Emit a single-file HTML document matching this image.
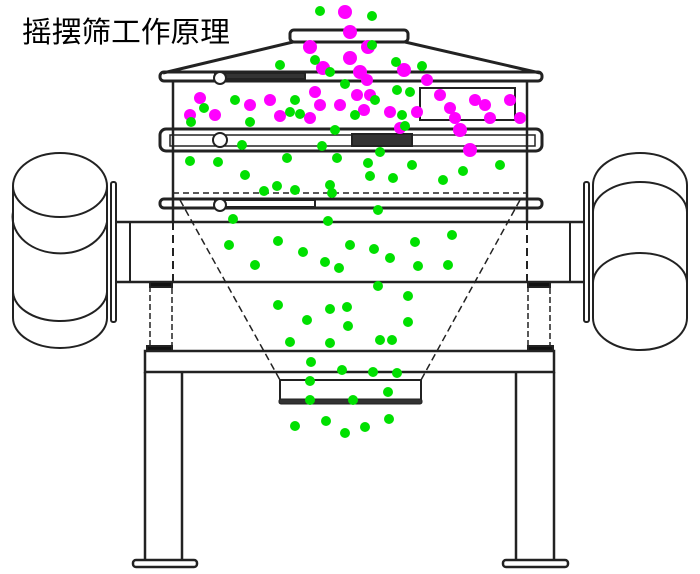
<!DOCTYPE html>
<html><head><meta charset="utf-8"><style>
html,body{margin:0;padding:0;background:#fff;}
svg{display:block;}
</style></head><body>
<svg width="700" height="574" viewBox="0 0 700 574" xmlns="http://www.w3.org/2000/svg">
<rect width="700" height="574" fill="#fff"/>
<text x="22" y="42" font-family="Liberation Sans, Noto Sans CJK SC, sans-serif" font-size="29" textLength="208" lengthAdjust="spacingAndGlyphs" fill="#000">摇摆筛工作原理</text>
<g fill="none" stroke="#222" stroke-width="2">
<!-- lid -->
<rect x="290" y="30" width="118" height="12" rx="4" fill="#fff" stroke-width="3"/>
<path d="M293 42 L163 73 M405 42 L540 73" stroke-width="3"/>
<rect x="160" y="72" width="382" height="9" rx="4" stroke-width="3"/>
<rect x="215" y="73" width="90" height="6" fill="#333"/>
<circle cx="220" cy="78" r="6" fill="#fff"/>
<!-- walls -->
<line x1="173" y1="80" x2="173" y2="222" stroke-width="2.5"/>
<line x1="527" y1="80" x2="527" y2="222" stroke-width="2.5"/>
<rect x="420" y="88" width="95" height="32"/>
<!-- band 2 -->
<rect x="160" y="129" width="382" height="22" rx="6" stroke-width="3"/>
<rect x="170" y="135" width="365" height="11" stroke-width="1.5"/>
<rect x="352" y="134" width="60" height="12" fill="#333"/>
<circle cx="220" cy="140" r="7" fill="#fff"/>
<!-- band 3 -->
<line x1="173" y1="193" x2="527" y2="193" stroke-dasharray="6 4" stroke-width="1.5"/>
<rect x="160" y="199" width="382" height="9" rx="4" stroke-width="3"/>
<rect x="215" y="200" width="100" height="7" fill="#fff"/>
<circle cx="220" cy="205" r="6" fill="#fff"/>
<!-- beam -->
<line x1="115" y1="222" x2="585" y2="222" stroke-width="2.5"/>
<line x1="115" y1="282" x2="585" y2="282" stroke-width="2.5"/>
<line x1="130" y1="222" x2="130" y2="282"/>
<line x1="570" y1="222" x2="570" y2="282"/>
<line x1="173" y1="222" x2="173" y2="282" stroke-dasharray="8 5"/>
<line x1="527" y1="222" x2="527" y2="282" stroke-dasharray="8 5"/>
<!-- flanges -->
<rect x="111" y="182" width="5" height="140" rx="2"/>
<rect x="584" y="182" width="5" height="140" rx="2"/>
<!-- left motor -->
<path d="M13 186 A47 33 0 0 1 107 186 L107 318 A47 30 0 0 1 13 318 Z" fill="#fff"/>
<path d="M13 186 A47 31 0 0 0 107 186"/>
<path d="M13 212 A47 36 0 0 0 107 222"/>
<path d="M13 290 A47 30 0 0 0 107 292"/>
<!-- right motor -->
<path d="M593 185 A47 32 0 0 1 687 185 L687 318 A47 32 0 0 1 593 318 Z" fill="#fff"/>
<path d="M593 212 A47 30 0 0 1 687 212"/>
<path d="M593 283 A47 30 0 0 1 687 283"/>
<!-- springs -->
<rect x="150" y="283" width="22" height="68" stroke-dasharray="6 3" stroke-width="1.5"/>
<rect x="150" y="282" width="22" height="5" fill="#111"/>
<rect x="147" y="346" width="25" height="5" fill="#111"/>
<rect x="528" y="283" width="22" height="68" stroke-dasharray="6 3" stroke-width="1.5"/>
<rect x="528" y="282" width="22" height="5" fill="#111"/>
<rect x="528" y="346" width="25" height="5" fill="#111"/>
<!-- table -->
<rect x="145" y="351" width="409" height="21" fill="#fff" stroke-width="2.5"/>
<!-- legs -->
<line x1="145" y1="372" x2="145" y2="560" stroke-width="2.5"/>
<line x1="182" y1="372" x2="182" y2="560" stroke-width="2.5"/>
<rect x="133" y="560" width="64" height="7" rx="3" stroke-width="2.5"/>
<line x1="516" y1="372" x2="516" y2="560" stroke-width="2.5"/>
<line x1="554" y1="372" x2="554" y2="560" stroke-width="2.5"/>
<rect x="503" y="560" width="65" height="7" rx="3" stroke-width="2.5"/>
<!-- hopper -->
<path d="M180 200 L280 380 M520 200 L421 380" stroke-dasharray="7 4" stroke-width="1.5"/>
<rect x="280" y="380" width="141" height="21" fill="#fff"/>
<rect x="279" y="399" width="143" height="5" rx="2" fill="#333" stroke-width="1"/>
</g>
<g fill="#ff00ff">
<circle cx="345" cy="12" r="7"/><circle cx="350" cy="32" r="7"/><circle cx="310" cy="47" r="7"/><circle cx="368" cy="47" r="7"/><circle cx="350" cy="58" r="7"/><circle cx="323" cy="68" r="7"/><circle cx="360" cy="72" r="7"/><circle cx="404" cy="70" r="7"/><circle cx="315" cy="92" r="6"/><circle cx="367" cy="80" r="6"/><circle cx="370" cy="95" r="6"/><circle cx="427" cy="80" r="6"/><circle cx="440" cy="95" r="6"/><circle cx="475" cy="100" r="6"/><circle cx="510" cy="100" r="6"/><circle cx="520" cy="118" r="6"/><circle cx="450" cy="108" r="6"/><circle cx="460" cy="130" r="7"/><circle cx="470" cy="150" r="7"/><circle cx="455" cy="118" r="6"/><circle cx="390" cy="112" r="6"/><circle cx="400" cy="128" r="6"/><circle cx="364" cy="110" r="6"/><circle cx="310" cy="118" r="6"/><circle cx="270" cy="100" r="6"/><circle cx="250" cy="105" r="6"/><circle cx="200" cy="98" r="6"/><circle cx="215" cy="115" r="6"/><circle cx="190" cy="115" r="6"/><circle cx="280" cy="116" r="6"/><circle cx="340" cy="105" r="6"/><circle cx="320" cy="105" r="6"/><circle cx="417" cy="112" r="6"/><circle cx="490" cy="118" r="6"/><circle cx="485" cy="105" r="6"/><circle cx="357" cy="95" r="6"/>
</g>
<g fill="#00e000">
<circle cx="320" cy="11" r="5"/><circle cx="372" cy="16" r="5"/><circle cx="372" cy="45" r="5"/><circle cx="280" cy="65" r="5"/><circle cx="315" cy="60" r="5"/><circle cx="330" cy="72" r="5"/><circle cx="396" cy="62" r="5"/><circle cx="422" cy="66" r="5"/><circle cx="397" cy="90" r="5"/><circle cx="345" cy="84" r="5"/><circle cx="295" cy="100" r="5"/><circle cx="235" cy="100" r="5"/><circle cx="204" cy="108" r="5"/><circle cx="290" cy="112" r="5"/><circle cx="191" cy="122" r="5"/><circle cx="250" cy="122" r="5"/><circle cx="335" cy="130" r="5"/><circle cx="300" cy="114" r="5"/><circle cx="355" cy="115" r="5"/><circle cx="375" cy="100" r="5"/><circle cx="402" cy="115" r="5"/><circle cx="405" cy="126" r="5"/><circle cx="410" cy="92" r="5"/><circle cx="242" cy="145" r="5"/><circle cx="322" cy="146" r="5"/><circle cx="380" cy="152" r="5"/><circle cx="218" cy="162" r="5"/><circle cx="190" cy="161" r="5"/><circle cx="287" cy="158" r="5"/><circle cx="337" cy="158" r="5"/><circle cx="368" cy="163" r="5"/><circle cx="370" cy="176" r="5"/><circle cx="412" cy="165" r="5"/><circle cx="500" cy="165" r="5"/><circle cx="463" cy="171" r="5"/><circle cx="245" cy="175" r="5"/><circle cx="277" cy="186" r="5"/><circle cx="330" cy="185" r="5"/><circle cx="393" cy="178" r="5"/><circle cx="264" cy="191" r="5"/><circle cx="295" cy="190" r="5"/><circle cx="332" cy="193" r="5"/><circle cx="443" cy="180" r="5"/><circle cx="378" cy="210" r="5"/><circle cx="233" cy="219" r="5"/><circle cx="328" cy="221" r="5"/><circle cx="229" cy="245" r="5"/><circle cx="278" cy="241" r="5"/><circle cx="303" cy="252" r="5"/><circle cx="350" cy="245" r="5"/><circle cx="374" cy="249" r="5"/><circle cx="415" cy="242" r="5"/><circle cx="452" cy="235" r="5"/><circle cx="255" cy="265" r="5"/><circle cx="325" cy="262" r="5"/><circle cx="339" cy="268" r="5"/><circle cx="390" cy="258" r="5"/><circle cx="418" cy="266" r="5"/><circle cx="448" cy="265" r="5"/><circle cx="378" cy="286" r="5"/><circle cx="278" cy="305" r="5"/><circle cx="307" cy="320" r="5"/><circle cx="330" cy="309" r="5"/><circle cx="347" cy="307" r="5"/><circle cx="348" cy="326" r="5"/><circle cx="408" cy="296" r="5"/><circle cx="408" cy="322" r="5"/><circle cx="380" cy="340" r="5"/><circle cx="290" cy="342" r="5"/><circle cx="311" cy="362" r="5"/><circle cx="330" cy="343" r="5"/><circle cx="392" cy="340" r="5"/><circle cx="342" cy="370" r="5"/><circle cx="373" cy="372" r="5"/><circle cx="397" cy="373" r="5"/><circle cx="310" cy="381" r="5"/><circle cx="388" cy="392" r="5"/><circle cx="310" cy="400" r="5"/><circle cx="353" cy="400" r="5"/><circle cx="295" cy="426" r="5"/><circle cx="326" cy="421" r="5"/><circle cx="345" cy="433" r="5"/><circle cx="365" cy="427" r="5"/><circle cx="389" cy="419" r="5"/>
</g>
</svg>
</body></html>
